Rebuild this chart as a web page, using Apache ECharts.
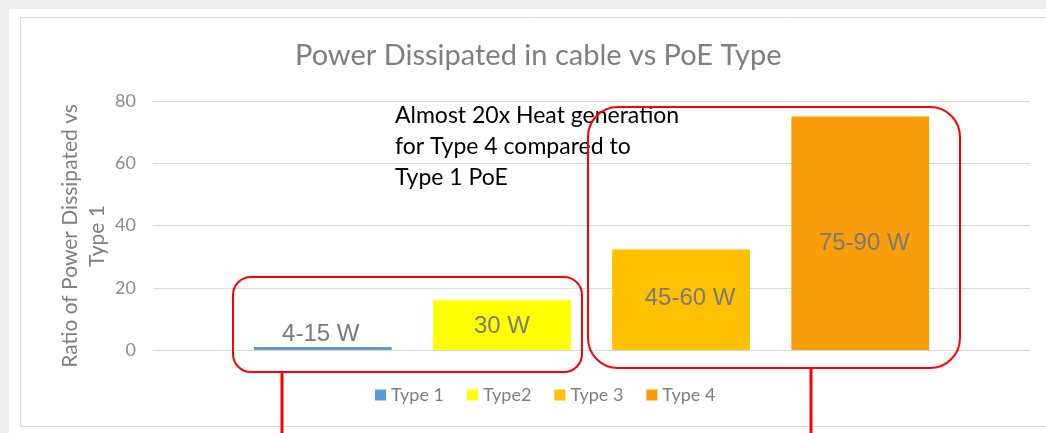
<!DOCTYPE html>
<html>
<head>
<meta charset="utf-8">
<script src="https://cdn.jsdelivr.net/npm/echarts@6/dist/echarts.min.js"></script>
<style>
  html, body { margin: 0; padding: 0; background: #fff; }
  #main { width: 1046px; height: 433px; }
</style>
</head>
<body>
<div id="main"></div>
<script>
// chart data
var seriesNames = ["Type 1", "Type2", "Type 3", "Type 4"];
var ratioValues = [1, 16, 32.3, 75];
var barLabels = ["4-15 W", "30 W", "45-60 W", "75-90 W"];
var barColors = ["#5b9bd5", "#ffff00", "#ffc000", "#f99d0b"];
var yTicks = { min: 0, max: 80, interval: 20 };
var yAxisTitle = "Ratio of Power Dissipated vs\nType 1";

var chart = echarts.init(document.getElementById("main"));

// label placement per bar (Type 1 sits above its thin bar, others inside)
var labelPos = [
  { position: "top", distance: 1, offset: [-2, 0] },
  { position: "inside", offset: [0, 1] },
  { position: "inside", offset: [9, -1] },
  { position: "inside", offset: [4, 10] }
];

var series = seriesNames.map(function (name, i) {
  return {
    name: name,
    type: "bar",
    data: [ratioValues[i]],
    barGap: "30%",
    barCategoryGap: "23%",
    itemStyle: { color: barColors[i] },
    label: Object.assign({
      show: true,
      formatter: barLabels[i],
      color: "#7a7a7a",
      fontFamily: "Liberation Sans",
      fontSize: 24
    }, labelPos[i])
  };
});

var option = {
  animation: false,
  backgroundColor: "#ffffff",
  title: {
    text: "Power Dissipated in cable vs PoE Type",
    left: 290,
    top: 36,
    textStyle: {
      color: "#7f7f7f",
      fontFamily: "Lato",
      fontWeight: "normal",
      fontSize: 29
    }
  },
  legend: {
    data: seriesNames,
    bottom: 24,
    left: 370,
    icon: "rect",
    itemWidth: 11,
    itemHeight: 11,
    itemGap: 23,
    textStyle: { color: "#7f7f7f", fontFamily: "Lato", fontSize: 18 }
  },
  grid: { left: 153, right: 16, top: 101, bottom: 83 },
  xAxis: {
    type: "category",
    data: [""],
    axisLine: { show: false },
    axisTick: { show: false },
    axisLabel: { show: false }
  },
  yAxis: {
    type: "value",
    min: yTicks.min,
    max: yTicks.max,
    interval: yTicks.interval,
    axisLabel: { color: "#8c8c8c", fontFamily: "Lato", fontSize: 18, margin: 17 },
    splitLine: { lineStyle: { color: "#d9d9d9", width: 1 } }
  },
  graphic: [
    // outer frame shading
    { type: "rect", shape: { x: 0, y: 0, width: 1046, height: 9 }, style: { fill: "#efefef" }, z: -10 },
    { type: "rect", shape: { x: 0, y: 0, width: 9, height: 433 }, style: { fill: "#efefef" }, z: -10 },
    { type: "rect", shape: { x: 20.5, y: 17.5, width: 1060, height: 409 }, style: { fill: "none", stroke: "#d9d9d9", lineWidth: 1 }, z: -5 },
    // y axis title (two lines, rotated)
    {
      type: "text",
      x: 84,
      y: 236,
      rotation: Math.PI / 2,
      style: {
        text: yAxisTitle,
        fill: "#7f7f7f",
        font: "21px Lato",
        lineHeight: 27,
        align: "center",
        verticalAlign: "middle"
      }
    },
    // annotation text
    {
      type: "text",
      left: 395,
      top: 100,
      style: {
        text: "Almost 20x Heat generation\nfor Type 4 compared to\nType 1 PoE",
        fill: "#000000",
        font: "23px Lato",
        lineHeight: 31
      },
      z: 100
    },
    // red callout boxes
    { type: "rect", shape: { x: 233, y: 277, width: 349, height: 95, r: 18 }, style: { fill: "none", stroke: "#ff0000", lineWidth: 2 }, z: 100 },
    { type: "rect", shape: { x: 588, y: 107, width: 372, height: 261, r: 30 }, style: { fill: "none", stroke: "#ff0000", lineWidth: 2 }, z: 100 },
    { type: "line", shape: { x1: 282, y1: 372, x2: 282, y2: 433 }, style: { stroke: "#ff0000", lineWidth: 3 }, z: 100 },
    { type: "line", shape: { x1: 811, y1: 368, x2: 811, y2: 433 }, style: { stroke: "#ff0000", lineWidth: 3 }, z: 100 }
  ],
  series: series
};

chart.setOption(option);
</script>
</body>
</html>
